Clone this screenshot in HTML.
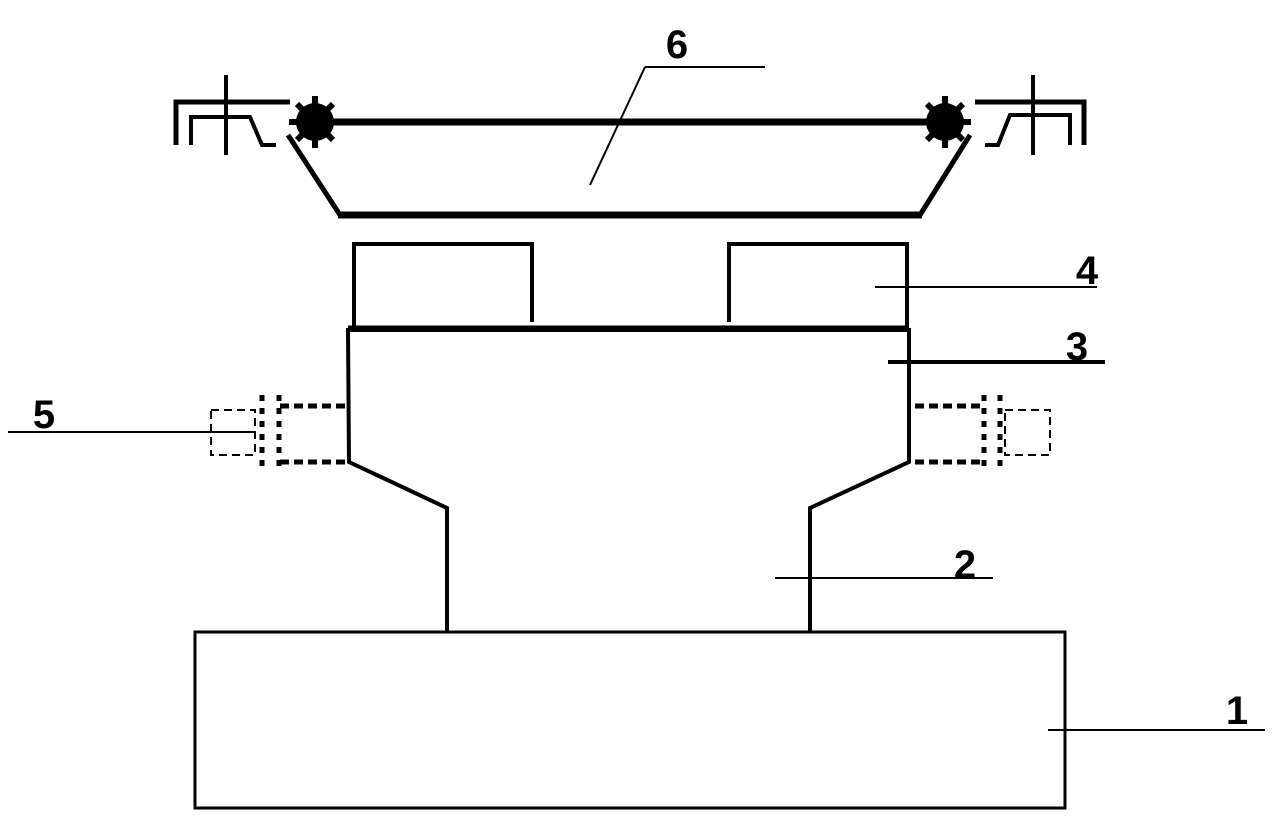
<!DOCTYPE html>
<html><head><style>html,body{margin:0;padding:0;background:#fff}svg{display:block}</style></head>
<body>
<svg width="1275" height="823" viewBox="0 0 1275 823" xmlns="http://www.w3.org/2000/svg">
<g fill="none" stroke="#000" stroke-linejoin="miter">
<rect x="195" y="632" width="870" height="176" stroke-width="3"/>
<polyline points="447,632 447,508 349,462 348,330 909,330 909,462 810,508 810,632" stroke-width="4"/>
<line x1="348" y1="328" x2="909" y2="328" stroke-width="5"/>
<polyline points="354,328 354,244 532,244 532,322" stroke-width="4"/>
<polyline points="729,322 729,244 907,244 907,328" stroke-width="4"/>
<line x1="300" y1="122" x2="960" y2="122" stroke-width="7"/>
<line x1="338" y1="215" x2="922" y2="215" stroke-width="7"/>
<line x1="288" y1="135" x2="340" y2="215" stroke-width="5"/>
<line x1="970" y1="135" x2="920" y2="215" stroke-width="5"/>
<polyline points="176,145 176,102 290,102" stroke-width="5"/>
<polyline points="191,145 191,117 250,117 262,145 276,145" stroke-width="4"/>
<line x1="226" y1="75" x2="226" y2="155" stroke-width="4"/>
<polyline points="1084,145 1084,102 975,102" stroke-width="5"/>
<polyline points="1070,145 1070,115 1010,115 998,145 985,145" stroke-width="4"/>
<line x1="1033" y1="75" x2="1033" y2="155" stroke-width="4"/>
<rect x="211" y="410" width="44" height="45" stroke-width="2" stroke-dasharray="8,5"/>
<path d="M280,406 H345 M280,462 H345" stroke-width="5" stroke-dasharray="9,5"/>
<line x1="262" y1="395" x2="262" y2="472" stroke-width="5" stroke-dasharray="6,7"/>
<line x1="279" y1="395" x2="279" y2="472" stroke-width="5" stroke-dasharray="6,7"/>
<rect x="1005" y="410" width="45" height="45" stroke-width="2" stroke-dasharray="8,5"/>
<path d="M915,406 H980 M915,462 H980" stroke-width="5" stroke-dasharray="9,5"/>
<line x1="984" y1="395" x2="984" y2="472" stroke-width="5" stroke-dasharray="6,7"/>
<line x1="1000" y1="395" x2="1000" y2="472" stroke-width="5" stroke-dasharray="6,7"/>
<line x1="8" y1="432" x2="255" y2="432" stroke-width="2"/>
<line x1="645" y1="67" x2="765" y2="67" stroke-width="2"/>
<line x1="645" y1="67" x2="590" y2="185" stroke-width="2"/>
<line x1="875" y1="287" x2="1097" y2="287" stroke-width="2"/>
<line x1="888" y1="362" x2="1105" y2="362" stroke-width="4"/>
<line x1="775" y1="578" x2="993" y2="578" stroke-width="2"/>
<line x1="1048" y1="730" x2="1265" y2="730" stroke-width="2"/>
</g>
<g fill="#000">
<circle cx="315" cy="122" r="19"/>
<circle cx="945" cy="122" r="19"/>
</g>
<g stroke="#000" stroke-width="6">
<path d="M315,96 V148 M289,122 H341 M297,104 L333,140 M333,104 L297,140"/>
<path d="M945,96 V148 M919,122 H971 M927,104 L963,140 M963,104 L927,140"/>
</g>
<g font-family="Liberation Sans, sans-serif" font-weight="bold" font-size="40" fill="#000" text-anchor="middle">
<text x="677" y="58">6</text>
<text x="1087" y="284">4</text>
<text x="1077" y="360">3</text>
<text x="965" y="578">2</text>
<text x="1237" y="724">1</text>
<text x="44" y="428">5</text>
</g>
</svg>
</body></html>
